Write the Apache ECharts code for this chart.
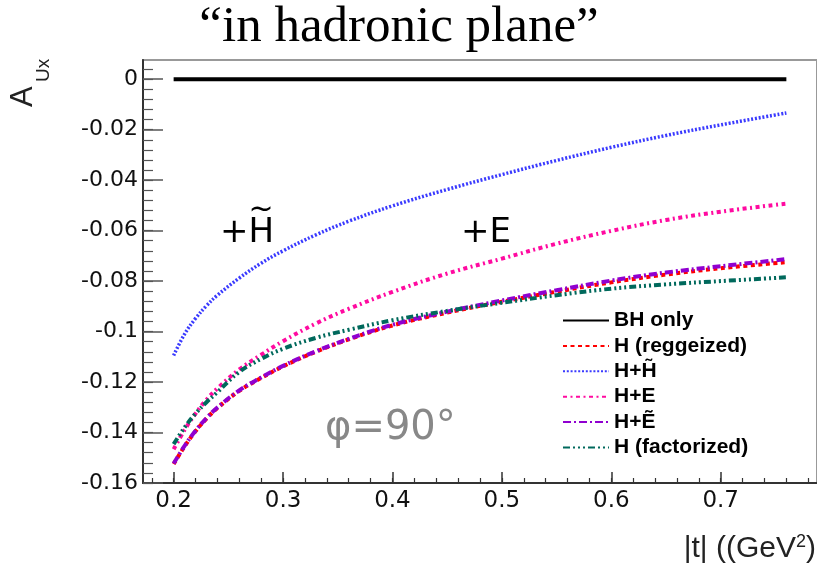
<!DOCTYPE html>
<html>
<head>
<meta charset="utf-8">
<script src="https://cdn.jsdelivr.net/npm/echarts@6/dist/echarts.min.js"></script>
<style>
  html, body { margin: 0; padding: 0; background: #fff; }
  #chart { width: 817px; height: 565px; }
</style>
</head>
<body>
<div id="chart"></div>
<script>
// |t| grid (GeV^2) and asymmetry A_Ux
var tValues  = [0.20, 0.21, 0.22, 0.23, 0.24, 0.26, 0.28, 0.30, 0.33, 0.36, 0.40, 0.45, 0.50, 0.55, 0.60, 0.65, 0.70, 0.76];
var bhOnly   = [0, 0, 0, 0, 0, 0, 0, 0, 0, 0, 0, 0, 0, 0, 0, 0, 0, 0];
var hRegge   = [-0.1525, -0.1455, -0.1395, -0.1345, -0.1303, -0.1235, -0.1184, -0.1138, -0.1080, -0.1031, -0.0976, -0.0925, -0.0882, -0.0842, -0.0805, -0.0774, -0.0749, -0.0725];
var hHtilde  = [-0.1095, -0.1010, -0.0948, -0.0898, -0.0856, -0.0788, -0.0729, -0.0680, -0.0617, -0.0563, -0.0502, -0.0437, -0.0378, -0.0322, -0.0270, -0.0223, -0.0181, -0.0134];
var hE       = [-0.1466, -0.1390, -0.1325, -0.1270, -0.1225, -0.1150, -0.1092, -0.1038, -0.0968, -0.0910, -0.0843, -0.0770, -0.0711, -0.0652, -0.0601, -0.0558, -0.0525, -0.0493];
var hEtilde  = [-0.1523, -0.1453, -0.1393, -0.1343, -0.1301, -0.1233, -0.1182, -0.1136, -0.1078, -0.1029, -0.0973, -0.0921, -0.0877, -0.0836, -0.0798, -0.0766, -0.0741, -0.0713];
var hFact    = [-0.1446, -0.1380, -0.1325, -0.1280, -0.1240, -0.1160, -0.1108, -0.1068, -0.1025, -0.0993, -0.0955, -0.0918, -0.0886, -0.0856, -0.0830, -0.0813, -0.0800, -0.0785];

var seriesNames = ['BH only', 'H (reggeized)', 'H+H\u0303', 'H+E', 'H+\u1EBC', 'H (factorized)'];

// tick labels
var xTickLabels = [0.2, 0.3, 0.4, 0.5, 0.6, 0.7];
var yTickLabels = [0, -0.02, -0.04, -0.06, -0.08, -0.1, -0.12, -0.14, -0.16];

var xMin = 0.172, xMax = 0.788;
var yMin = -0.16, yMax = 0.0076;

// minor ticks: 5 divisions between labelled ticks
var xMinor = [], yMinor = [];
for (var i = -2; i <= 29; i++) { var v = +(0.2 + i * 0.02).toFixed(3); if (v > xMin && v < xMax) xMinor.push(v); }
for (var j = 0; j <= 42; j++) { var w = +(-0.16 + j * 0.004).toFixed(4); if (w >= yMin && w < yMax) yMinor.push(w); }

function pairs(vals) {
  return tValues.map(function (t, k) { return [t, vals[k]]; });
}

var chart = echarts.init(document.getElementById('chart'));

var tickFont = '"DejaVu Sans", sans-serif';
var sansFont = '"Liberation Sans", Arial, sans-serif';

function mkLine(name, vals, color, width, dash) {
  return {
    name: name,
    type: 'line',
    xAxisIndex: 0,
    yAxisIndex: 0,
    data: pairs(vals),
    smooth: 0.4,
    symbol: 'none',
    silent: true,
    lineStyle: { color: color, width: width, type: dash },
    itemStyle: { color: color }
  };
}

var option = {
  backgroundColor: '#fff',
  animation: false,
  grid: {
    left: 143, top: 60, width: 676, height: 423,
    show: true, borderColor: '#999', borderWidth: 2, backgroundColor: 'transparent'
  },
  xAxis: [{
    type: 'value', min: xMin, max: xMax, position: 'bottom',
    axisLine: { onZero: false, lineStyle: { color: '#333', width: 2 } },
    axisTick: { inside: true, length: 11, customValues: xTickLabels, lineStyle: { color: '#333', width: 1.5 } },
    axisLabel: { customValues: xTickLabels, margin: 7, fontSize: 23, color: '#111', fontFamily: tickFont },
    splitLine: { show: false }
  }, {
    type: 'value', min: xMin, max: xMax, position: 'bottom', gridIndex: 0,
    axisLine: { show: false, onZero: false },
    axisTick: { inside: true, length: 5, customValues: xMinor, lineStyle: { color: '#333', width: 1.2 } },
    axisLabel: { show: false },
    splitLine: { show: false }
  }],
  yAxis: [{
    type: 'value', min: yMin, max: yMax, position: 'left',
    axisLine: { show: true, onZero: false, lineStyle: { color: '#333', width: 2 } },
    axisTick: { show: true, inside: true, length: 20, customValues: yTickLabels, lineStyle: { color: '#555', width: 1.5 } },
    axisLabel: { customValues: yTickLabels, margin: 5, fontSize: 22, color: '#111', fontFamily: tickFont },
    splitLine: { show: false }
  }, {
    type: 'value', min: yMin, max: yMax, position: 'left', gridIndex: 0,
    axisLine: { show: false, onZero: false },
    axisTick: { show: true, inside: true, length: 10, customValues: yMinor, lineStyle: { color: '#555', width: 1.2 } },
    axisLabel: { show: false },
    splitLine: { show: false }
  }],
  legend: {
    orient: 'vertical',
    left: 557, top: 305,
    itemWidth: 46, itemHeight: 14, itemGap: 4.4,
    data: seriesNames,
    itemStyle: { color: 'rgba(0,0,0,0)', borderColor: 'rgba(0,0,0,0)', borderWidth: 0, opacity: 0 },
    textStyle: { fontSize: 21, fontWeight: 'bold', color: '#000', fontFamily: sansFont },
    selectedMode: false
  },
  series: [
    mkLine(seriesNames[0], bhOnly, '#000000', 4, 'solid'),
    mkLine(seriesNames[1], hRegge, '#ff0000', 4, [4, 3.5]),
    mkLine(seriesNames[2], hHtilde, '#3a3aff', 3.5, [2, 1.8]),
    mkLine(seriesNames[3], hE, '#ff0aa0', 4, [4, 3.5, 2, 3.5]),
    mkLine(seriesNames[4], hEtilde, '#9000d0', 4, [8, 3, 2, 3]),
    mkLine(seriesNames[5], hFact, '#00695c', 4, [7, 3, 2, 3, 2, 3, 2, 3])
  ],
  graphic: [
    { type: 'text', x: 399, y: 28,
      style: { text: '\u201Cin hadronic plane\u201D', font: '51px "Liberation Serif", "Times New Roman", serif',
               fill: '#000', textAlign: 'center', textVerticalAlign: 'middle' } },
    { type: 'text', x: 816, y: 549,
      style: { text: '{n||t| ((GeV}{s|2}{n|)}', textAlign: 'right', textVerticalAlign: 'middle',
               rich: {
                 n: { font: '30px "Liberation Sans", Arial, sans-serif', fill: '#222' },
                 s: { font: '18px "Liberation Sans", Arial, sans-serif', fill: '#222', padding: [0, 0, 14, 0] }
               } } },
    { type: 'text', x: 39, y: 107, rotation: Math.PI / 2,
      style: { text: 'A', font: '31px "Liberation Sans", Arial, sans-serif',
               fill: '#222', textAlign: 'left', textVerticalAlign: 'bottom' } },
    { type: 'text', x: 53, y: 82, rotation: Math.PI / 2,
      style: { text: 'Ux', font: '19px "Liberation Sans", Arial, sans-serif',
               fill: '#222', textAlign: 'left', textVerticalAlign: 'bottom' } },
    { type: 'text', x: 220, y: 233,
      style: { text: '+H', font: '34px "DejaVu Sans", sans-serif',
               fill: '#000', textAlign: 'left', textVerticalAlign: 'middle' } },
    { type: 'text', x: 261, y: 210,
      style: { text: '~', font: '30px "DejaVu Sans", sans-serif',
               fill: '#000', textAlign: 'center', textVerticalAlign: 'middle' } },
    { type: 'text', x: 461, y: 233,
      style: { text: '+E', font: '34px "DejaVu Sans", sans-serif',
               fill: '#000', textAlign: 'left', textVerticalAlign: 'middle' } },
    { type: 'text', x: 325, y: 429,
      style: { text: '\u03C6=90\u00B0', font: '40px "DejaVu Sans", sans-serif',
               fill: '#888', textAlign: 'left', textVerticalAlign: 'middle' } }
  ]
};

chart.setOption(option);
</script>
</body>
</html>
